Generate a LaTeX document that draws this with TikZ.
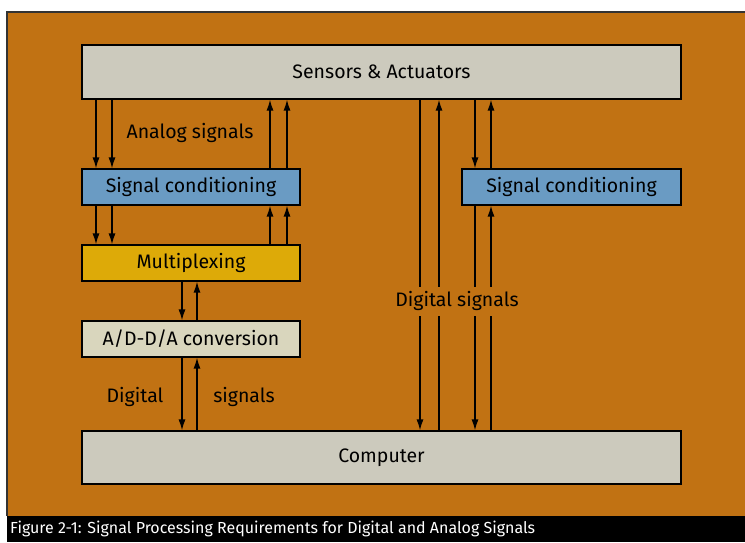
\documentclass[tikz,border=0pt]{standalone}
\usepackage{fontspec}
\setmainfont{Fira Sans}
\usepackage{tikz}
\usetikzlibrary{arrows.meta}
\definecolor{bgorange}{HTML}{C17213}
\definecolor{boxgray}{HTML}{CCCABD}
\definecolor{condblue}{HTML}{6A9BC3}
\definecolor{muxgold}{HTML}{DDAA08}
\definecolor{adcbeige}{HTML}{D9D6BD}
\definecolor{edgegray}{HTML}{333333}

\tikzset{
	box/.style={draw=black, line width=1.2pt, inner sep=0pt, font=\fontsize{19.5}{19.5}\selectfont},
	sig/.style={line width=1.3pt, -{Latex[length=11pt,width=7pt]}},
	lbl/.style={inner sep=1pt, font=\fontsize{19.5}{19.5}\selectfont}
}

\begin{document}
\begin{tikzpicture}[x=1pt, y=-1pt]
	\useasboundingbox (0,0) rectangle (745,542);
	% background and caption bar
	\fill[white] (0,0) rectangle (745,542);
	\fill[bgorange] (7,12) rectangle (745,516);
	\fill[black] (7,516) rectangle (745,542);
	\draw[edgegray, line width=1.2pt] (7,516) -- (7,12) -- (745,12);
	\node[anchor=west, text=white, inner sep=0pt, font=\fontsize{16}{16}\selectfont] (caption) at (10,529)
		{Figure 2-1: Signal Processing Requirements for Digital and Analog Signals};

	% blocks
	\node[box, fill=boxgray, minimum width=599pt, minimum height=54pt] (sensors) at (381.5,72) {Sensors \& Actuators};
	\node[box, fill=condblue, minimum width=218pt, minimum height=36pt] (condL) at (191,187) {Signal conditioning};
	\node[box, fill=muxgold, minimum width=218pt, minimum height=36pt] (mux) at (191,263) {Multiplexing};
	\node[box, fill=adcbeige, minimum width=218pt, minimum height=36pt] (adc) at (191,339) {A/D-D/A conversion};
	\node[box, fill=condblue, minimum width=219pt, minimum height=36pt] (condR) at (571.5,187) {Signal conditioning};
	\node[box, fill=boxgray, minimum width=599pt, minimum height=53pt] (computer) at (381.5,457.5) {Computer};

	% analog side
	\foreach \x in {96,112} {
		\draw[sig] (sensors.south -| \x,0) -- (condL.north -| \x,0);
		\draw[sig] (condL.south -| \x,0) -- (mux.north -| \x,0);
	}
	\foreach \x in {270,287} {
		\draw[sig] (condL.north -| \x,0) -- (sensors.south -| \x,0);
		\draw[sig] (mux.north -| \x,0) -- (condL.south -| \x,0);
	}
	\draw[sig] (mux.south -| 182,0) -- (adc.north -| 182,0);
	\draw[sig] (adc.north -| 197,0) -- (mux.south -| 197,0);
	\draw[sig] (adc.south -| 182,0) -- (computer.north -| 182,0);
	\draw[sig] (computer.north -| 197,0) -- (adc.south -| 197,0);

	% digital side
	\draw[sig] (sensors.south -| 420,0) -- (computer.north -| 420,0);
	\draw[sig] (computer.north -| 439,0) -- (sensors.south -| 439,0);
	\draw[sig] (sensors.south -| 475,0) -- (condR.north -| 475,0);
	\draw[sig] (condR.south -| 475,0) -- (computer.north -| 475,0);
	\draw[sig] (computer.north -| 491,0) -- (condR.south -| 491,0);
	\draw[sig] (condR.north -| 491,0) -- (sensors.south -| 491,0);

	% labels
	\node[lbl] (analog) at (190,133) {Analog signals};
	\node[lbl] (digL) at (135,397) {Digital};
	\node[lbl] (digR) at (244,397) {signals};
	\node[lbl, fill=bgorange, minimum height=29pt] (digital) at (457,301) {Digital signals};
\end{tikzpicture}
\end{document}
